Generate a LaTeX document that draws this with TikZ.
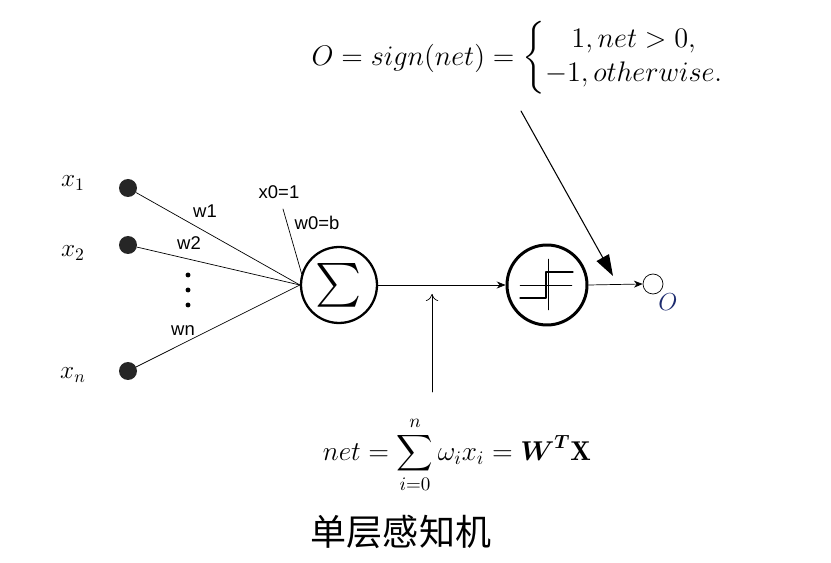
\RequirePackage{fix-cm}
\documentclass[tikz,border=0pt]{standalone}
\usepackage{amsmath,bm}
\usepackage{fontspec}
\setsansfont{Liberation Sans}
\newfontfamily\cjkfont{Noto Sans CJK SC}
\usetikzlibrary{arrows.meta}
\definecolor{outblue}{RGB}{28,42,110}
\begin{document}
\begin{tikzpicture}[x=0.02cm, y=-0.02cm, line join=round, line cap=round, >={Stealth[length=5pt,width=4pt]},
		input/.style={circle, fill=black!85, inner sep=0pt, minimum size=0.36cm},
		neuron/.style={circle, draw, inner sep=0pt},
		wlabel/.style={font=\sffamily\fontsize{10.5}{12}\selectfont, inner sep=1pt},
		mlabel/.style={font=\fontsize{14.4}{17}\selectfont, inner sep=0pt}]
	\useasboundingbox (0,0) rectangle (831,563);
	% inputs
	\node[input] (in1) at (128,188) {};
	\node[input] (in2) at (128,245) {};
	\node[input] (inn) at (128,371) {};
	\node[mlabel] (lx1) at (73,183) {$x_1$};
	\node[mlabel] (lx2) at (73,253) {$x_2$};
	\node[mlabel] (lxn) at (73,375) {$x_n$};
	\foreach \y in {275,290,305} \fill (188,\y) circle (1.4pt);
	% neurons
	\node[neuron, line width=1.3pt, minimum size=1.52cm, font=\fontsize{24}{26}\selectfont] (sum) at (339,285) {$\sum$};
	\node[neuron, line width=1.7pt, minimum size=1.6cm] (act) at (547,285) {};
	\node[neuron, thin, minimum size=0.4cm] (out) at (653,284) {};
	\node[font=\fontsize{14}{16}\selectfont\itshape, text=outblue] (lo) at (668,302) {$O$};
	% weights
	\coordinate (bias) at (283,209);
	\draw[thin] (in1) -- (sum.west);
	\draw[thin] (in2) -- (sum.west);
	\draw[thin] (inn) -- (sum.west);
	\draw[thin] (bias) -- (sum.163);
	\node[wlabel] (lb) at (279,192) {x0=1};
	\node[wlabel] (lw0) at (317,223) {w0=b};
	\node[wlabel] (lw1) at (205,211) {w1};
	\node[wlabel] (lw2) at (189,243) {w2};
	\node[wlabel] (lwn) at (183,331) {wn};
	% step function
	\begin{scope}[shift={(act.center)}]
		\draw[very thin] (-27,0) -- (25,0);
		\draw[very thin] (1,-26) -- (1,25);
		\draw[semithick] (-27,13) -- (-1,13) -- (-1,-13) -- (26,-13);
	\end{scope}
	\draw[->] (sum.east) -- (act.west);
	\draw[->] (act.east) -- (out.west);
	% formulas
	\node[mlabel, font=\fontsize{16.1}{19}\selectfont] (sign) at (518,58) {$O = sign(net) = \left\{\begin{array}{@{}c@{}} 1, net > 0,\\ -1, otherwise. \end{array}\right.$};
	\node[mlabel, font=\fontsize{15.5}{18}\selectfont] (net) at (457,455) {$net = \displaystyle\sum_{i=0}^{n} \omega_i x_i = \bm{W}^{\bm{T}}\mathbf{X}$};
	\node[font=\cjkfont\fontsize{20.5}{23}\selectfont, inner sep=0pt] (title) at (401,532) {单层感知机};
	\coordinate (s1) at (521,111);
	\coordinate (s2) at (613,276);
	\draw[-{Triangle[length=12pt,width=8pt]}, semithick] (s1) -- (s2);
	\coordinate (n1) at (432,392);
	\coordinate (n2) at (432,294);
	\draw[-{To[length=4pt,width=7pt]}, thin] (n1) -- (n2);
\end{tikzpicture}
\end{document}
